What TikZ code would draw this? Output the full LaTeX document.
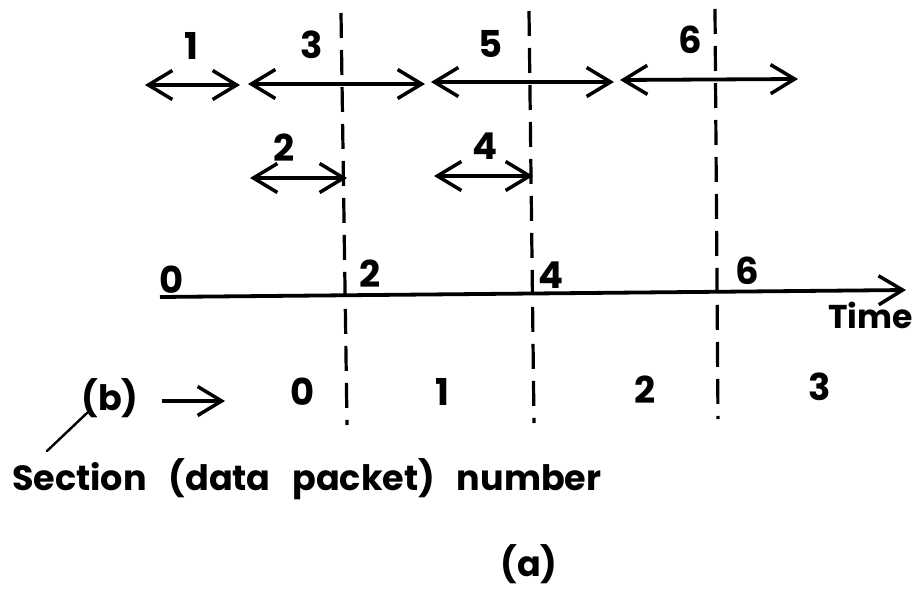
\documentclass[tikz,border=0pt]{standalone}
\usepackage{fontspec}
\setmainfont{Poppins}
\usetikzlibrary{arrows.meta}
\begin{document}
\begin{tikzpicture}[x=1pt,y=-1pt,
  lbl/.style={font=\fontsize{37}{40}\selectfont\bfseries, inner sep=0pt},
  txt/.style={font=\fontsize{35}{38}\selectfont\bfseries, inner sep=0pt},
  barb/.tip={Straight Barb[length=24pt,width=29pt,line width=3.5pt]},
  span/.style={line width=3.8pt, barb-barb},
  oneway/.style={line width=3.8pt, -barb},
  divider/.style={line width=3.2pt, dash pattern=on 25pt off 12pt},
  axis/.style={line width=3.8pt, -barb}]
\useasboundingbox (0,0) rectangle (913,591);
% dashed dividers
\coordinate (d1t) at (341,13);  \coordinate (d1b) at (347,425);
\coordinate (d2t) at (529,11);  \coordinate (d2b) at (534,423);
\coordinate (d3t) at (715,9);   \coordinate (d3b) at (718,419);
\draw[divider] (d1t) -- (d1b);
\draw[divider] (d2t) -- (d2b);
\draw[divider] (d3t) -- (d3b);
% row 1 spans
\coordinate (a1l) at (145,85); \coordinate (a1r) at (240,85);
\coordinate (a3l) at (248,84); \coordinate (a3r) at (425,84);
\coordinate (a5l) at (431,82); \coordinate (a5r) at (614,82);
\coordinate (a6l) at (620,80); \coordinate (a6r) at (798,79);
\draw[span] (a1l) -- (a1r);
\draw[span] (a3l) -- (a3r);
\draw[span] (a5l) -- (a5r);
\draw[span] (a6l) -- (a6r);
\node[lbl] (n1) at (191,46) {1};
\node[lbl] (n3) at (312,45) {3};
\node[lbl] (n5) at (491,44) {5};
\node[lbl] (n6) at (690,40) {6};
% row 2 spans
\coordinate (a2l) at (250,178); \coordinate (a2r) at (347,178);
\coordinate (a4l) at (434,176); \coordinate (a4r) at (533,176);
\draw[span] (a2l) -- (a2r);
\draw[span] (a4l) -- (a4r);
\node[lbl] (n2) at (284,148) {2};
\node[lbl] (n4) at (485,146) {4};
% time axis
\coordinate (t0) at (160,297); \coordinate (tend) at (906,290);
\draw[axis] (t0) -- (tend);
\node[lbl] (t0l) at (172,280) {0};
\node[lbl] (t2l) at (370,274) {2};
\node[lbl] (t4l) at (551,275) {4};
\node[lbl] (t6l) at (747,271) {6};
\node[txt, font=\fontsize{33}{36}\selectfont\bfseries, anchor=east] (time) at (913,315) {Time};
% section numbers
\node[txt] (b) at (110,398) {(b)};
\coordinate (barl) at (162,401); \coordinate (barr) at (225,401);
\draw[oneway] (barl) -- (barr);
\node[lbl] (s0) at (303,392) {0};
\node[lbl] (s1) at (442,392) {1};
\node[lbl] (s2) at (645,390) {2};
\node[lbl] (s3) at (820,387) {3};
\coordinate (leadtop) at (87,413);
\coordinate (lead) at (47,451);
\draw[line width=2.4pt, line cap=round] (leadtop) -- (lead);
\node[txt, anchor=base west] (sec) at (12,490) {\spaceskip=0.62em plus 0.1em\relax Section (data packet) number};
\node[txt] (fa) at (529,564) {(a)};
\end{tikzpicture}
\end{document}
